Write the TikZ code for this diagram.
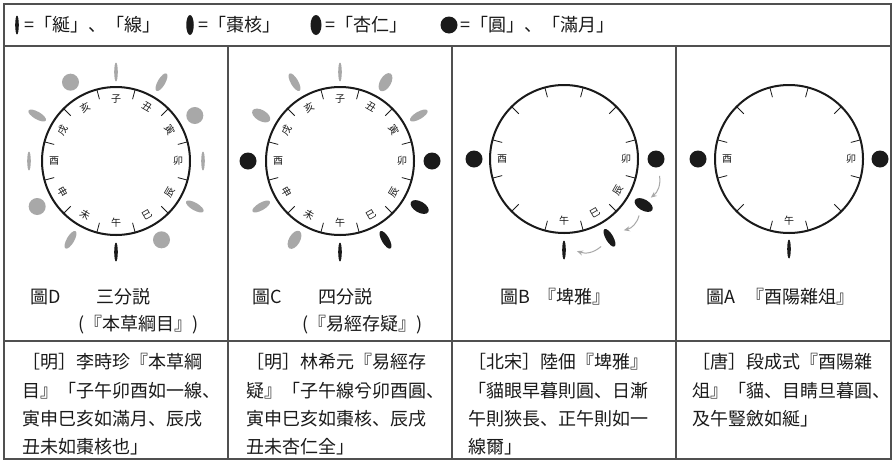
\documentclass[tikz,border=0pt]{standalone}
\usepackage{fontspec}
\newfontfamily\cjk{Noto Sans CJK JP}
\usetikzlibrary{arrows.meta,shapes.geometric}
\definecolor{symgray}{HTML}{A8A8A8}
\definecolor{rulegray}{HTML}{505050}
\definecolor{ink}{HTML}{1A1A1A}
\tikzset{
  rule/.style={draw=rulegray, line width=1.1pt},
  dialring/.style={draw=ink, line width=2pt},
  dialtick/.style={draw=ink, line width=0.8pt},
  branch/.style={font=\cjk\fontsize{10}{10}\selectfont, inner sep=0pt, text=ink},
  body/.style={font=\cjk\fontsize{18}{18}\selectfont, inner sep=0pt, anchor=west, text=ink},
  slit/.style={ellipse, minimum width=3.6pt, minimum height=19pt, inner sep=0pt, draw=none},
  zaohe/.style={ellipse, minimum width=7.5pt, minimum height=20pt, inner sep=0pt, draw=none},
  xingren/.style={ellipse, minimum width=11pt, minimum height=20pt, inner sep=0pt, draw=none},
  fullmoon/.style={circle, minimum size=17pt, inner sep=0pt, draw=none},
  flow/.style={draw=symgray, line width=1pt, -{Stealth[length=6pt,width=5pt]}}
}
\newcommand{\dialbase}{%
  \draw[dialring] (0,0) circle[radius=74];
  \foreach \a in {15,45,...,345} \draw[dialtick] (\a:74) -- (\a:64);
}
\newcommand{\blab}[4]{\node[branch, rotate=#3] (#1) at (#2:62) {#4};}
\begin{document}
\begin{tikzpicture}[x=1pt,y=1pt]
\useasboundingbox (0,0) rectangle (893,-461);
\fill[white] (0,0) rectangle (893,-461);
% frame and grid
\draw[rule] (4,-4) rectangle (891,-459);
\draw[rule] (4,-46) -- (891,-46);
\draw[rule] (4,-341) -- (891,-341);
\draw[rule] (228,-46) -- (228,-459);
\draw[rule] (452,-46) -- (452,-459);
\draw[rule] (676,-46) -- (676,-459);
% legend
\node[slit, fill=ink] (lg1) at (17,-25) {};
\node[body] (lt1) at (24,-25) {=「綖」、「線」};
\node[zaohe, fill=ink] (lg2) at (190,-25) {};
\node[body] (lt2) at (198,-25) {=「棗核」};
\node[xingren, fill=ink] (lg3) at (316,-25) {};
\node[body] (lt3) at (325,-25) {=「杏仁」};
\node[fullmoon, fill=ink] (lg4) at (449,-25) {};
\node[body] (lt4) at (460,-25) {=「圓」、「滿月」};
% ---------- Figure D ----------
\begin{scope}[shift={(116,-161)}]
  \dialbase
  \blab{Dl1}{90}{0}{子}\blab{Dl2}{60}{-30}{丑}\blab{Dl3}{30}{-60}{寅}
  \blab{Dl4}{0}{0}{卯}\blab{Dl5}{-30}{60}{辰}\blab{Dl6}{-60}{30}{巳}
  \blab{Dl7}{-90}{0}{午}\blab{Dl8}{-120}{-30}{未}\blab{Dl9}{-150}{-60}{申}
  \blab{Dl10}{180}{0}{酉}\blab{Dl11}{150}{60}{戌}\blab{Dl12}{120}{30}{亥}
  \node[slit, fill=symgray] (Dzi) at (90:89) {};
  \node[zaohe, fill=symgray, rotate=-30] (Dchou) at (60:91) {};
  \node[fullmoon, fill=symgray] (Dyin) at (30:91) {};
  \node[slit, fill=symgray] (Dmao) at (0:87) {};
  \node[zaohe, fill=symgray, rotate=-120] (Dchen) at (-30:91) {};
  \node[fullmoon, fill=symgray] (Dsi) at (-60:91) {};
  \node[slit, fill=ink] (Dwu) at (-90:91) {};
  \node[zaohe, fill=symgray, rotate=150] (Dwei) at (-120:91) {};
  \node[fullmoon, fill=symgray] (Dshen) at (-150:91) {};
  \node[slit, fill=symgray] (Dyou) at (180:87) {};
  \node[zaohe, fill=symgray, rotate=60] (Dxu) at (150:91) {};
  \node[fullmoon, fill=symgray] (Dhai) at (120:91) {};
\end{scope}
% ---------- Figure C ----------
\begin{scope}[shift={(340,-161)}]
  \dialbase
  \blab{Cl1}{90}{0}{子}\blab{Cl2}{60}{-30}{丑}\blab{Cl3}{30}{-60}{寅}
  \blab{Cl4}{0}{0}{卯}\blab{Cl5}{-30}{60}{辰}\blab{Cl6}{-60}{30}{巳}
  \blab{Cl7}{-90}{0}{午}\blab{Cl8}{-120}{-30}{未}\blab{Cl9}{-150}{-60}{申}
  \blab{Cl10}{180}{0}{酉}\blab{Cl11}{150}{60}{戌}\blab{Cl12}{120}{30}{亥}
  \node[slit, fill=symgray] (Czi) at (90:89) {};
  \node[xingren, fill=symgray, rotate=-30] (Cchou) at (60:91) {};
  \node[zaohe, fill=symgray, rotate=-60] (Cyin) at (30:91) {};
  \node[fullmoon, fill=ink] (Cmao) at (0:92) {};
  \node[xingren, fill=ink, rotate=-120] (Cchen) at (-30:92) {};
  \node[zaohe, fill=ink, rotate=-150] (Csi) at (-60:91) {};
  \node[slit, fill=ink] (Cwu) at (-90:91) {};
  \node[xingren, fill=symgray, rotate=150] (Cwei) at (-120:91) {};
  \node[zaohe, fill=symgray, rotate=120] (Cshen) at (-150:91) {};
  \node[fullmoon, fill=ink] (Cyou) at (180:92) {};
  \node[xingren, fill=symgray, rotate=60] (Cxu) at (150:91) {};
  \node[zaohe, fill=symgray, rotate=30] (Chai) at (120:91) {};
\end{scope}
% ---------- Figure B ----------
\begin{scope}[shift={(564,-159)}]
  \dialbase
  \blab{Bl4}{0}{0}{卯}\blab{Bl5}{-30}{60}{辰}\blab{Bl6}{-60}{30}{巳}
  \blab{Bl7}{-90}{0}{午}\blab{Bl10}{180}{0}{酉}
  \node[fullmoon, fill=ink] (Bmao) at (0:92) {};
  \node[xingren, fill=ink, rotate=-120] (Bchen) at (-30:92) {};
  \node[zaohe, fill=ink, rotate=-150] (Bsi) at (-60:91) {};
  \node[slit, fill=ink] (Bwu) at (-90:91) {};
  \node[fullmoon, fill=ink] (Byou) at (180:90) {};
  \coordinate (Ba1) at (-10:97); \coordinate (Bb1) at (-24:95);
  \coordinate (Ba2) at (-37:94); \coordinate (Bb2) at (-50:93);
  \coordinate (Ba3) at (-67:95); \coordinate (Bb3) at (-82:93);
  \draw[flow] (Ba1) to[bend left=30] (Bb1);
  \draw[flow] (Ba2) to[bend left=30] (Bb2);
  \draw[flow] (Ba3) to[bend left=30] (Bb3);
\end{scope}
% ---------- Figure A ----------
\begin{scope}[shift={(789,-159)}]
  \dialbase
  \blab{Al4}{0}{0}{卯}\blab{Al7}{-90}{0}{午}\blab{Al10}{180}{0}{酉}
  \node[fullmoon, fill=ink] (Amao) at (0:91) {};
  \node[slit, fill=ink] (Awu) at (-90:90) {};
  \node[fullmoon, fill=ink] (Ayou) at (180:91) {};
\end{scope}
% captions
\node[body] (capD1) at (30,-297) {圖D};
\node[body] (capD2) at (96,-297) {三分説};
\node[body] (capD3) at (78,-325) {(『本草綱目』)};
\node[body] (capC1) at (252,-297) {圖C};
\node[body] (capC2) at (318,-297) {四分説};
\node[body] (capC3) at (302,-325) {(『易經存疑』)};
\node[body] (capB1) at (500,-297) {圖B};
\node[body] (capB2) at (538,-297) {『埤雅』};
\node[body] (capA1) at (706,-297) {圖A};
\node[body] (capA2) at (746,-297) {『酉陽雜俎』};
% body texts
\node[body] (tD1) at (22,-362) {［明］李時珍『本草綱};
\node[body] (tD2) at (22,-391) {目』「子午卯酉如一線、};
\node[body] (tD3) at (22,-419) {寅申巳亥如滿月、辰戌};
\node[body] (tD4) at (22,-447) {丑未如棗核也」};
\node[body] (tC1) at (246,-362) {［明］林希元『易經存};
\node[body] (tC2) at (246,-391) {疑』「子午線兮卯酉圓、};
\node[body] (tC3) at (246,-419) {寅申巳亥如棗核、辰戌};
\node[body] (tC4) at (246,-447) {丑未杏仁全」};
\node[body] (tB1) at (468,-362) {［北宋］陸佃『埤雅』};
\node[body] (tB2) at (468,-391) {「貓眼早暮則圓、日漸};
\node[body] (tB3) at (468,-419) {午則狹長、正午則如一};
\node[body] (tB4) at (468,-447) {線爾」};
\node[body] (tA1) at (692,-362) {［唐］段成式『酉陽雜};
\node[body] (tA2) at (692,-391) {俎』「貓、目睛旦暮圓、};
\node[body] (tA3) at (692,-419) {及午豎斂如綖」};
\end{tikzpicture}
\end{document}
